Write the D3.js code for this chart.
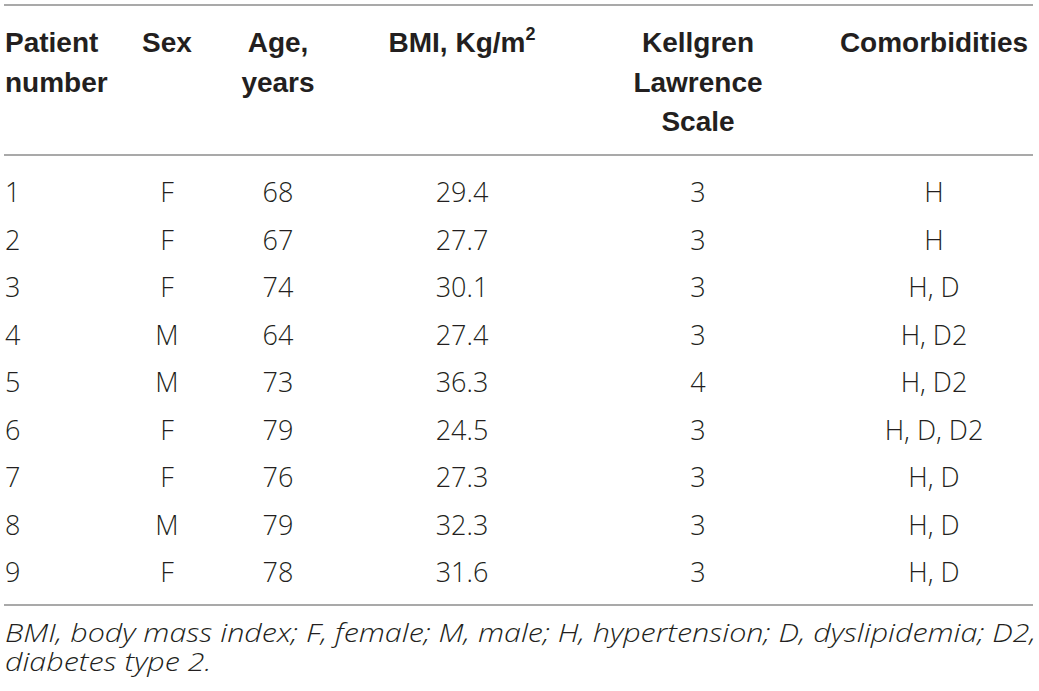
<!DOCTYPE html>
<html>
<head>
<meta charset="utf-8">
<script src="https://cdn.jsdelivr.net/npm/d3@7"></script>
<style>
  body { margin: 0; background: #fff; }
  svg { display: block; }
</style>
</head>
<body>
<svg id="table"></svg>
<script>
// table values
const patientNumbers = ['1', '2', '3', '4', '5', '6', '7', '8', '9'];
const sexes = ['F', 'F', 'F', 'M', 'M', 'F', 'F', 'M', 'F'];
const ages = ['68', '67', '74', '64', '73', '79', '76', '79', '78'];
const bmis = ['29.4', '27.7', '30.1', '27.4', '36.3', '24.5', '27.3', '32.3', '31.6'];
const kellgren = ['3', '3', '3', '3', '4', '3', '3', '3', '3'];
const comorbidities = ['H', 'H', 'H, D', 'H, D2', 'H, D2', 'H, D, D2', 'H, D', 'H, D', 'H, D'];

const headers = [
    ['Patient', 'number'],
    ['Sex'],
    ['Age,', 'years'],
    ['BMI, Kg/m'],
    ['Kellgren', 'Lawrence', 'Scale'],
    ['Comorbidities']
];
const footnote = [
    'BMI, body mass index; F, female; M, male; H, hypertension; D, dyslipidemia; D2,',
    'diabetes type 2.'
];

const columns = [patientNumbers, sexes, ages, bmis, kellgren, comorbidities];

// layout
const width = 1039, height = 691;
const colX = [5, 167, 278, 462, 698, 934];
const colAnchor = ['start', 'middle', 'middle', 'middle', 'middle', 'middle'];

const svg = d3.select('#table')
    .attr('width', width)
    .attr('height', height);

const rowScale = d3.scaleLinear()
    .domain([0, patientNumbers.length - 1])
    .range([202, 582]);

const headScale = d3.scaleLinear()
    .domain([0, 2])
    .range([52, 131]);

// rules
const rules = [5, 155, 605];
svg.selectAll('line.rule')
    .data(rules)
    .join('line')
    .attr('class', 'rule')
    .attr('x1', 4)
    .attr('x2', 1033)
    .attr('y1', d => d)
    .attr('y2', d => d)
    .attr('stroke', '#8c8c8c')
    .attr('stroke-width', 1.6);

// header
const head = svg.append('g')
    .style('font-family', '"Liberation Sans", Arial, sans-serif')
    .style('font-weight', 'bold')
    .style('font-size', '28px')
    .attr('fill', '#231f20');

headers.forEach((lines, c) => {
    lines.forEach((t, i) => {
        const txt = head.append('text')
            .attr('x', colX[c])
            .attr('y', headScale(i))
            .attr('text-anchor', colAnchor[c])
            .text(t);
        if (c === 3) {
            txt.append('tspan')
                .attr('dy', -12)
                .style('font-size', '18px')
                .text('2');
        }
    });
});

// body cells
const body = svg.append('g')
    .style('font-family', '"Open Sans", "Liberation Sans", sans-serif')
    .style('font-weight', 300)
    .style('font-size', '27px')
    .attr('fill', '#231f20');

columns.forEach((vals, c) => {
    body.selectAll(`text.c${c}`)
        .data(vals)
        .join('text')
        .attr('class', `c${c}`)
        .attr('x', colX[c])
        .attr('y', (d, i) => rowScale(i))
        .attr('text-anchor', colAnchor[c])
        .text(d => d);
});

// footnote, justified like the source (wider face -> stretch glyphs)
const foot = svg.append('g')
    .style('font-family', '"Open Sans", "Liberation Sans", sans-serif')
    .style('font-weight', 300)
    .style('font-style', 'italic')
    .style('font-size', '25px')
    .attr('fill', '#231f20');

const footText = foot.selectAll('text')
    .data(footnote)
    .join('text')
    .attr('x', 5)
    .attr('y', (d, i) => 642 + i * 29)
    .text(d => d);

const natural = footText.nodes().map(n => n.getComputedTextLength());
const stretch = 1031 / natural[0];
footText
    .attr('textLength', (d, i) => natural[i] * stretch)
    .attr('lengthAdjust', 'spacingAndGlyphs');
</script>
</body>
</html>
